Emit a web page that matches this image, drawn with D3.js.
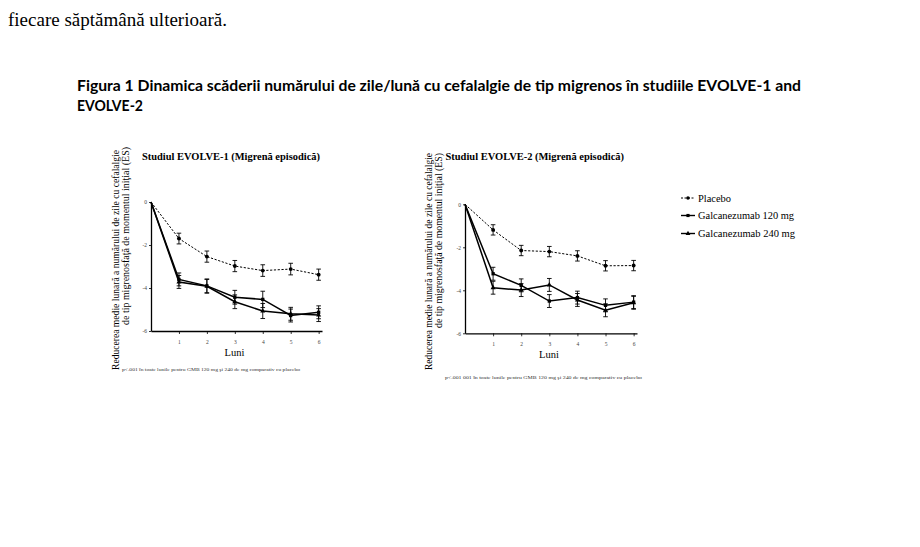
<!DOCTYPE html>
<html>
<head>
<meta charset="utf-8">
<script src="https://cdn.jsdelivr.net/npm/d3@7"></script>
<style>
  html, body { margin: 0; padding: 0; background: #fff; }
  svg { display: block; }
</style>
</head>
<body>
<svg id="chart" width="920" height="547"></svg>
<script>
// luni (0 = momentul inițial)
const months = [0, 1, 2, 3, 4, 5, 6];
const xTicks = [1, 2, 3, 4, 5, 6];
const yTicks = [0, -2, -4, -6];

// EVOLVE-1
const evolve1Placebo = [0, -1.7, -2.54, -2.98, -3.19, -3.12, -3.38];
const evolve1PlaceboSE = [0, 0.25, 0.26, 0.26, 0.27, 0.27, 0.26];
const evolve1Galca120 = [0, -3.6, -3.9, -4.43, -4.53, -5.28, -5.13];
const evolve1Galca120SE = [0, 0.3, 0.32, 0.32, 0.38, 0.3, 0.3];
const evolve1Galca240 = [0, -3.72, -3.92, -4.64, -5.07, -5.2, -5.26];
const evolve1Galca240SE = [0, 0.3, 0.32, 0.32, 0.35, 0.3, 0.3];

// EVOLVE-2
const evolve2Placebo = [0, -1.19, -2.15, -2.2, -2.4, -2.86, -2.85];
const evolve2PlaceboSE = [0, 0.24, 0.24, 0.24, 0.24, 0.24, 0.24];
const evolve2Galca120 = [0, -3.23, -3.77, -4.5, -4.34, -4.7, -4.55];
const evolve2Galca120SE = [0, 0.3, 0.3, 0.3, 0.3, 0.3, 0.3];
const evolve2Galca240 = [0, -3.88, -3.99, -3.75, -4.45, -4.93, -4.58];
const evolve2Galca240SE = [0, 0.3, 0.3, 0.3, 0.3, 0.3, 0.3];

const legendLabels = ['Placebo', 'Galcanezumab 120 mg', 'Galcanezumab 240 mg'];

const SERIF = '"Liberation Serif", "DejaVu Serif", serif';
const svg = d3.select('#chart');

// text de deasupra figurii
svg.append('text')
    .attr('x', 8).attr('y', 26)
    .attr('font-family', SERIF).attr('font-size', 19)
    .text('fiecare săptămână ulterioară.');

// titlul figurii
const caption = svg.append('g')
    .attr('font-family', 'Lato, "Open Sans", sans-serif')
    .attr('font-weight', 'bold')
    .attr('font-size', 15);
caption.append('text')
    .attr('x', 77).attr('y', 91)
    .attr('textLength', 724).attr('lengthAdjust', 'spacingAndGlyphs')
    .text('Figura 1 Dinamica scăderii numărului de zile/lună cu cefalalgie de tip migrenos în studiile EVOLVE-1 and');
caption.append('text')
    .attr('x', 77).attr('y', 111)
    .attr('textLength', 66).attr('lengthAdjust', 'spacingAndGlyphs')
    .text('EVOLVE-2');

// un panou (studiu)
function drawPanel(cfg) {
    const g = svg.append('g');
    const x = d3.scaleLinear().domain([0, 6.12]).range([cfg.left, cfg.right]);
    const y = d3.scaleLinear().domain([0, -6]).range([cfg.top, cfg.bottom]);

    // titlu
    g.append('text')
        .attr('x', cfg.titleX).attr('y', 160)
        .attr('font-family', SERIF).attr('font-weight', 'bold').attr('font-size', 10)
        .attr('textLength', cfg.titleLen).attr('lengthAdjust', 'spacingAndGlyphs')
        .text(cfg.title);

    // axa Y
    const yAxis = g.append('g')
        .attr('transform', `translate(${cfg.left},0)`)
        .call(d3.axisLeft(y).tickValues(yTicks).tickSize(2).tickSizeOuter(0).tickPadding(2)
            .tickFormat(d => String(d)));
    // axa X
    const xAxis = g.append('g')
        .attr('transform', `translate(0,${cfg.bottom})`)
        .call(d3.axisBottom(x).tickValues(xTicks).tickSize(3).tickSizeOuter(0).tickPadding(6)
            .tickFormat(d => String(d)));
    [yAxis, xAxis].forEach(a => {
        a.select('.domain').attr('stroke', '#000').attr('stroke-width', 1.3);
        a.selectAll('.tick line').attr('stroke', '#000').attr('stroke-width', 0.8);
        a.selectAll('.tick text').attr('font-family', SERIF).attr('font-size', 5.5).attr('fill', '#444');
    });

    // etichete axe
    g.append('text')
        .attr('x', (cfg.left + cfg.right) / 2 - 2).attr('y', cfg.bottom + 25)
        .attr('text-anchor', 'middle')
        .attr('font-family', SERIF).attr('font-size', 10.5)
        .text('Luni');

    g.append('text')
        .attr('transform', `translate(${cfg.yl1X},${cfg.yl1Start}) rotate(-90)`)
        .attr('font-family', SERIF).attr('font-size', 9.5)
        .attr('textLength', cfg.yl1Len).attr('lengthAdjust', 'spacingAndGlyphs')
        .text('Reducerea medie lunară a numărului de zile cu cefalalgie');
    g.append('text')
        .attr('transform', `translate(${cfg.yl1X + 10.5},${cfg.yl2Start}) rotate(-90)`)
        .attr('font-family', SERIF).attr('font-size', 9.5)
        .attr('textLength', cfg.yl2Len).attr('lengthAdjust', 'spacingAndGlyphs')
        .text('de tip migrenosfaţă de momentul iniţial (ES)');

    // notă
    g.append('text')
        .attr('x', cfg.noteX).attr('y', cfg.noteY)
        .attr('font-family', SERIF).attr('font-size', 4.3).attr('fill', '#333')
        .attr('textLength', cfg.noteLen).attr('lengthAdjust', 'spacingAndGlyphs')
        .text(cfg.note);

    // serii
    const series = [
        { v: cfg.placebo, se: cfg.placeboSE, dash: '2.2,1.6', w: 1, marker: 'circle' },
        { v: cfg.g120, se: cfg.g120SE, dash: null, w: 1.5, marker: 'square' },
        { v: cfg.g240, se: cfg.g240SE, dash: null, w: 1.5, marker: 'triangle' }
    ];
    const line = d3.line().x((d, i) => x(months[i])).y(d => y(d));

    series.forEach(s => {
        g.append('path')
            .attr('d', line(s.v))
            .attr('fill', 'none').attr('stroke', '#000')
            .attr('stroke-width', s.w)
            .attr('stroke-dasharray', s.dash);

        const pts = s.v.map((v, i) => ({ m: months[i], v: v, se: s.se[i] })).filter(p => p.m > 0);
        const eb = g.append('g').attr('stroke', '#000').attr('stroke-width', 0.9);
        pts.forEach(p => {
            const cx = x(p.m);
            eb.append('line').attr('x1', cx).attr('x2', cx).attr('y1', y(p.v + p.se)).attr('y2', y(p.v - p.se));
            eb.append('line').attr('x1', cx - 2.3).attr('x2', cx + 2.3).attr('y1', y(p.v + p.se)).attr('y2', y(p.v + p.se));
            eb.append('line').attr('x1', cx - 2.3).attr('x2', cx + 2.3).attr('y1', y(p.v - p.se)).attr('y2', y(p.v - p.se));
        });
        const sym = s.marker === 'circle' ? d3.symbolCircle : s.marker === 'square' ? d3.symbolSquare : d3.symbolTriangle;
        g.selectAll(null).data(pts).enter().append('path')
            .attr('d', d3.symbol().type(sym).size(s.marker === 'circle' ? 12 : 11))
            .attr('transform', p => `translate(${x(p.m)},${y(p.v)})`)
            .attr('fill', '#000');
    });
}

drawPanel({
    title: 'Studiul EVOLVE-1 (Migrenă episodică)', titleX: 142, titleLen: 178,
    left: 151, right: 322, top: 202, bottom: 331,
    yl1X: 118.5, yl1Start: 370, yl1Len: 220, yl2Start: 325, yl2Len: 178,
    note: 'p<.001 în toate lunile pentru GMB 120 mg şi 240 de mg comparativ cu placebo',
    noteX: 122, noteY: 371, noteLen: 178,
    placebo: evolve1Placebo, placeboSE: evolve1PlaceboSE,
    g120: evolve1Galca120, g120SE: evolve1Galca120SE,
    g240: evolve1Galca240, g240SE: evolve1Galca240SE
});

drawPanel({
    title: 'Studiul EVOLVE-2 (Migrenă episodică)', titleX: 445.5, titleLen: 178.5,
    left: 465, right: 637, top: 204.3, bottom: 333.3,
    yl1X: 431.5, yl1Start: 370, yl1Len: 217, yl2Start: 328, yl2Len: 175,
    note: 'p<.001 001 în toate lunile pentru GMB 120 mg şi 240 de mg comparativ cu placebo',
    noteX: 445, noteY: 379, noteLen: 197,
    placebo: evolve2Placebo, placeboSE: evolve2PlaceboSE,
    g120: evolve2Galca120, g120SE: evolve2Galca120SE,
    g240: evolve2Galca240, g240SE: evolve2Galca240SE
});

// legendă
const legendY = [198, 215.5, 233.5];
const legendLen = [33, 96, 97];
const legendSym = [d3.symbolCircle, d3.symbolSquare, d3.symbolTriangle];
const legend = svg.append('g');
legendLabels.forEach((lab, i) => {
    const gy = legendY[i];
    legend.append('line')
        .attr('x1', 681).attr('x2', 695).attr('y1', gy).attr('y2', gy)
        .attr('stroke', '#000').attr('stroke-width', i === 0 ? 1 : 1.4)
        .attr('stroke-dasharray', i === 0 ? '2,1.5' : null);
    legend.append('path')
        .attr('d', d3.symbol().type(legendSym[i]).size(10))
        .attr('transform', `translate(688,${gy})`)
        .attr('fill', '#000');
    legend.append('text')
        .attr('x', 698).attr('y', gy + 3.5)
        .attr('font-family', SERIF).attr('font-size', 10)
        .attr('textLength', legendLen[i]).attr('lengthAdjust', 'spacingAndGlyphs')
        .text(lab);
});
</script>
</body>
</html>
